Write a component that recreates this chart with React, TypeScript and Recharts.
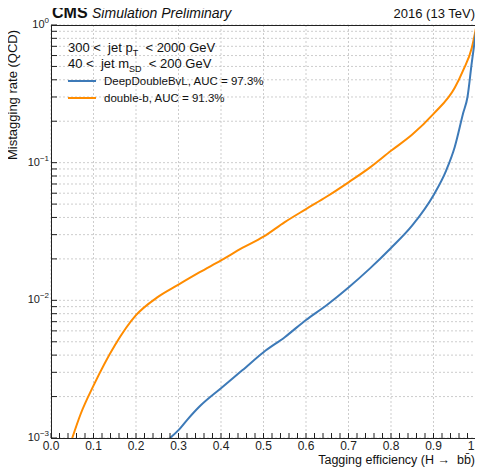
import { LineChart, Line, XAxis, YAxis, CartesianGrid } from 'recharts';

const deepEff = [0.28, 0.3, 0.32, 0.35, 0.4, 0.45, 0.5, 0.55, 0.6, 0.65, 0.7, 0.75, 0.8, 0.85, 0.9, 0.93, 0.95, 0.97, 0.98, 0.99, 1.0];
const deepRate = [0.001, 0.00114, 0.00135, 0.0017, 0.0023, 0.0031, 0.0042, 0.0054, 0.0072, 0.0093, 0.0124, 0.017, 0.024, 0.035, 0.058, 0.088, 0.13, 0.23, 0.3, 0.53, 0.9];
const dbEff = [0.05, 0.07, 0.1, 0.15, 0.2, 0.25, 0.3, 0.35, 0.4, 0.45, 0.5, 0.55, 0.6, 0.65, 0.7, 0.75, 0.8, 0.85, 0.9, 0.95, 0.97, 0.99, 1.0];
const dbRate = [0.001, 0.0015, 0.0024, 0.0047, 0.0078, 0.0105, 0.013, 0.016, 0.0195, 0.024, 0.029, 0.037, 0.046, 0.057, 0.072, 0.092, 0.122, 0.16, 0.226, 0.35, 0.47, 0.68, 0.95];

const xMinor = Array.from({ length: 51 }, (_, i) => +(i * 0.02).toFixed(2));
const xMajor = [0, 0.1, 0.2, 0.3, 0.4, 0.5, 0.6, 0.7, 0.8, 0.9, 1];
const yMajor = [0.001, 0.01, 0.1, 1];
const yTicks: number[] = [];
[0.001, 0.01, 0.1].forEach(d => { for (let m = 1; m < 10; m++) yTicks.push(+(d * m).toPrecision(3)); });
yTicks.push(1);

const deep = deepEff.map((x, i) => ({ x, y: deepRate[i] }));
const db = dbEff.map((x, i) => ({ x, y: dbRate[i] }));

const isMajX = (v: number) => Math.abs(v * 10 - Math.round(v * 10)) < 1e-6;
const isMajY = (v: number) => yMajor.some(m => Math.abs(v / m - 1) < 1e-6);

// plot box in page pixels
const L = 51, T = 25, R = 476, B = 438;

const XTick = ({ x, payload }: any) => {
  if (!isMajX(payload.value)) return <g />;
  return <text x={x} y={B + 12} textAnchor="middle" fontSize={12} fill="#222">{payload.value.toFixed(1)}</text>;
};

const YTick = ({ y, payload }: any) => {
  if (!isMajY(payload.value)) return <g />;
  const exp = Math.round(Math.log10(payload.value));
  return (
    <text x={L - 2} y={y + 3} textAnchor="end" fontSize={11} fill="#222">
      10<tspan dy={-5} fontSize={8}>{exp === 0 ? '0' : '−' + -exp}</tspan>
    </text>
  );
};

const abs = (o: any) => ({ position: 'absolute' as const, whiteSpace: 'nowrap' as const, ...o });

export default function App() {
  return (
    <div style={{ position: 'relative', width: 483, height: 475, margin: -8, fontFamily: 'Liberation Sans, Arial, sans-serif', color: '#111', background: '#fff' }}>
      <LineChart width={483} height={475} margin={{ top: T, right: 483 - R, bottom: 0, left: 0 }}>
        <CartesianGrid stroke="#c0c0c0" strokeDasharray="2 2" strokeWidth={0.8} verticalValues={xMajor} />
        <XAxis dataKey="x" type="number" domain={[0, 1]} ticks={xMinor} interval={0} height={475 - B} axisLine={false} tickLine={{ stroke: '#222' }} tickSize={-5} tick={XTick} />
        <YAxis dataKey="y" type="number" scale="log" domain={[0.001, 1]} ticks={yTicks} interval={0} width={L} axisLine={false} tickLine={{ stroke: '#222' }} tickSize={-6} tick={YTick} allowDataOverflow />
        <Line data={db} dataKey="y" type="monotone" stroke="#ff8c00" strokeWidth={2} dot={false} isAnimationActive={false} />
        <Line data={deep} dataKey="y" type="monotone" stroke="#3d7ab8" strokeWidth={2} dot={false} isAnimationActive={false} />
      </LineChart>
      <div style={abs({ left: L, top: T, width: R - L - 1, height: B - T - 1, border: '1px solid #222', pointerEvents: 'none' })} />
      <div style={abs({ left: 52, top: 4, fontSize: 16 })}>
        <b>CMS</b> <i style={{ fontSize: 14 }}>Simulation Preliminary</i>
      </div>
      <div style={abs({ right: 8, top: 6, fontSize: 13 })}>2016 (13 TeV)</div>
      <div style={abs({ left: 68, top: 40, fontSize: 13 })}>300 &lt;&nbsp; jet p<sub style={{ fontSize: 9 }}>T</sub>&nbsp; &lt; 2000 GeV</div>
      <div style={abs({ left: 68, top: 56, fontSize: 13 })}>40 &lt;&nbsp; jet m<sub style={{ fontSize: 9 }}>SD</sub>&nbsp; &lt; 200 GeV</div>
      <div style={abs({ left: 68, top: 75, fontSize: 11.5, display: 'flex', alignItems: 'center' })}>
        <span style={{ display: 'inline-block', width: 28, height: 2, background: '#3d7ab8', marginRight: 8 }} />DeepDoubleBvL, AUC = 97.3%
      </div>
      <div style={abs({ left: 68, top: 92, fontSize: 11.5, display: 'flex', alignItems: 'center' })}>
        <span style={{ display: 'inline-block', width: 28, height: 2, background: '#ff8c00', marginRight: 8 }} />double-b, AUC = 91.3%
      </div>
      <div style={abs({ right: 8, top: 453, fontSize: 12.5, lineHeight: '14px' })}>Tagging efficiency (H → &nbsp;bb̄)</div>
      <div style={abs({ left: 12, top: 95, fontSize: 13, transform: 'translate(-50%,-50%) rotate(-90deg)' })}>Mistagging rate (QCD)</div>
    </div>
  );
}
